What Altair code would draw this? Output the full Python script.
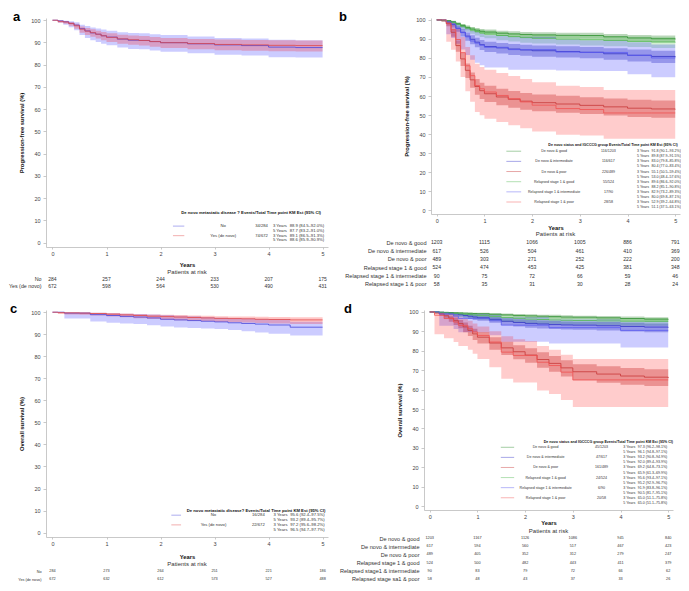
import altair as alt
import pandas as pd

FONT = "Liberation Sans"
XDOM = [-0.12, 5.1]
YDOM = [-2, 101]
YTICKS = list(range(0, 101, 10))
XTICKS = [0, 1, 2, 3, 4, 5]
RISK_T = [0, 1, 2, 3, 4, 5]

# ---------------- Panel a : PFS, de novo metastatic disease ----------------
A_T = [0, 0.1, 0.2, 0.3, 0.4, 0.5, 0.6, 0.7, 0.8, 0.9, 1.0, 1.2, 1.4, 1.6, 1.8, 2.0, 2.5, 3.0, 3.5, 4.0, 4.5, 5.0]
A_NO_S = [100, 99.7, 99.3, 98.6, 97.8, 96.2, 95.2, 94.3, 93.7, 93.0, 92.4, 91.5, 91.0, 90.9, 90.4, 89.9, 89.4, 88.9, 88.6, 87.9, 87.7, 87.7]
A_NO_LO = [100, 98.9, 98.0, 96.8, 95.5, 93.4, 92.0, 91.0, 90.2, 89.4, 88.7, 87.7, 87.1, 86.9, 86.4, 85.8, 85.1, 84.5, 84.1, 83.4, 83.2, 83.2]
A_NO_HI = [100, 100, 99.8, 99.5, 99.1, 98.0, 97.4, 96.7, 96.3, 95.8, 95.3, 94.6, 94.2, 94.1, 93.7, 93.3, 92.7, 92.0, 91.8, 91.2, 91.0, 91.0]
A_YES_S = [100, 99.5, 99.2, 98.5, 97.5, 96.0, 95.1, 94.4, 93.7, 93.0, 92.3, 91.6, 91.2, 90.9, 90.4, 89.9, 89.5, 89.1, 88.9, 88.7, 88.6, 88.6]
A_YES_LO = [100, 98.9, 98.4, 97.5, 96.2, 94.4, 93.4, 92.6, 91.8, 91.0, 90.2, 89.4, 89.0, 88.6, 88.1, 87.5, 87.0, 86.5, 86.3, 86.0, 85.9, 85.9]
A_YES_HI = [100, 99.9, 99.7, 99.2, 98.4, 97.2, 96.5, 95.9, 95.3, 94.7, 94.1, 93.5, 93.1, 92.9, 92.4, 92.0, 91.6, 91.3, 91.1, 91.0, 90.9, 90.9]
A_GROUPS = ["No", "Yes (de novo)"]
A_EVENTS = ["34/284", "74/672"]
A_EST3 = ["88.9 (84.5\u201392.0%)", "89.1 (86.5\u201391.3%)"]
A_EST5 = ["87.7 (83.2\u201391.0%)", "88.6 (85.9\u201390.9%)"]
A_RISK_LABELS = ["No", "Yes (de novo)"]
A_RISK = [[284, 257, 244, 233, 207, 175], [672, 598, 564, 530, 490, 431]]

# ---------------- Panel b : PFS, de novo status x IGCCCG ----------------
B_T = [0, 0.1, 0.2, 0.3, 0.4, 0.5, 0.6, 0.7, 0.8, 0.9, 1.0, 1.25, 1.5, 1.75, 2.0, 2.5, 3.0, 3.5, 4.0, 4.5, 5.0]
B_DG_S = [100, 99.9, 99.6, 99.0, 98.0, 97.0, 96.0, 95.2, 94.6, 94.0, 93.6, 93.0, 92.6, 92.3, 92.1, 91.9, 91.8, 91.1, 90.5, 90.1, 89.8]
B_DG_LO = [100, 99.7, 99.2, 98.4, 97.2, 96.0, 94.9, 94.0, 93.3, 92.6, 92.2, 91.5, 91.0, 90.7, 90.5, 90.2, 90.1, 89.3, 88.6, 88.2, 87.9]
B_DG_HI = [100, 100, 99.9, 99.5, 98.7, 97.9, 97.0, 96.3, 95.7, 95.2, 94.9, 94.3, 94.0, 93.7, 93.5, 93.3, 93.2, 92.6, 92.1, 91.8, 91.5]
B_DI_S = [100, 99.8, 99.0, 97.5, 95.6, 93.5, 91.5, 89.8, 88.3, 87.0, 86.0, 85.3, 84.7, 84.2, 83.8, 83.4, 83.0, 82.2, 81.4, 80.8, 80.4]
B_DI_LO = [100, 99.3, 98.0, 96.0, 93.8, 91.3, 89.1, 87.2, 85.6, 84.2, 83.1, 82.3, 81.6, 81.1, 80.7, 80.2, 79.8, 79.0, 78.1, 77.4, 77.0]
B_DI_HI = [100, 100, 99.6, 98.5, 96.9, 95.2, 93.4, 91.9, 90.6, 89.4, 88.5, 87.9, 87.3, 86.9, 86.5, 86.2, 85.8, 85.1, 84.4, 83.8, 83.4]
B_DP_S = [100, 99.6, 98.0, 93.5, 86.5, 79.5, 73.5, 68.5, 65.0, 62.8, 61.2, 59.5, 58.3, 57.3, 56.5, 55.8, 55.1, 54.3, 53.6, 53.2, 53.0]
B_DP_LO = [100, 99.0, 96.7, 91.1, 83.3, 75.8, 69.5, 64.3, 60.7, 58.4, 56.8, 55.1, 53.8, 52.8, 52.0, 51.2, 50.5, 49.7, 49.0, 48.6, 48.4]
B_DP_HI = [100, 99.9, 98.8, 95.3, 89.2, 82.8, 77.1, 72.4, 69.0, 67.0, 65.4, 63.8, 62.6, 61.6, 60.8, 60.1, 59.4, 58.7, 58.0, 57.7, 57.6]
B_RG_S = [100, 99.8, 99.4, 98.6, 97.6, 96.6, 95.6, 94.7, 93.9, 93.2, 92.6, 91.8, 91.2, 90.7, 90.3, 89.9, 89.6, 89.2, 88.7, 88.4, 88.2]
B_RG_LO = [100, 99.3, 98.5, 97.4, 96.1, 94.9, 93.8, 92.7, 91.8, 91.0, 90.3, 89.3, 88.6, 88.0, 87.6, 87.1, 86.6, 86.2, 85.7, 85.3, 85.1]
B_RG_HI = [100, 100, 99.8, 99.3, 98.6, 97.8, 96.9, 96.1, 95.4, 94.8, 94.3, 93.6, 93.1, 92.7, 92.4, 92.1, 92.0, 91.6, 91.2, 90.9, 90.8]
B_RI_S = [100, 100, 98.9, 97.8, 95.6, 93.3, 91.1, 88.9, 87.8, 86.7, 85.6, 85.6, 84.4, 84.4, 84.4, 83.1, 82.9, 82.9, 81.4, 80.0, 80.0]
B_RI_LO = [100, 100, 92.5, 90.5, 87.5, 84.5, 81.5, 79.0, 77.5, 76.2, 75.0, 75.0, 73.8, 73.8, 73.8, 73.4, 73.2, 73.2, 71.5, 69.8, 69.8]
B_RI_HI = [100, 100, 99.8, 99.4, 98.3, 97.1, 95.7, 94.3, 93.5, 92.7, 92.0, 92.0, 91.2, 91.2, 91.2, 89.8, 89.3, 89.3, 88.2, 87.1, 87.1]
B_RP_S = [100, 100, 98.3, 94.8, 89.7, 82.8, 75.9, 70.7, 65.5, 63.8, 62.1, 60.3, 58.6, 56.9, 55.2, 53.4, 52.9, 51.1, 51.1, 51.1, 51.1]
B_RP_LO = [100, 100, 88.5, 84.3, 78.1, 70.0, 62.5, 57.0, 51.6, 49.9, 48.1, 46.4, 44.7, 43.0, 41.3, 39.6, 39.2, 37.5, 37.5, 37.5, 37.5]
B_RP_HI = [100, 100, 99.8, 98.3, 95.8, 91.0, 85.7, 81.4, 76.9, 75.3, 73.8, 72.1, 70.5, 68.9, 67.2, 65.4, 64.8, 63.1, 63.1, 63.1, 63.1]
B_GROUPS = ["De novo & good", "De novo & intermediate", "De novo & poor",
            "Relapsed stage 1 & good", "Relapsed stage 1 & intermediate", "Relapsed stage 1 & poor"]
B_EVENTS = ["116/1203", "116/617", "226/489", "55/524", "17/90", "28/58"]
B_EST3 = ["91.8 (90.1\u201393.2%)", "83.0 (79.8\u201385.8%)", "55.1 (50.5\u201359.4%)",
          "89.6 (86.6\u201392.0%)", "82.9 (73.2\u201389.3%)", "52.9 (39.2\u201364.8%)"]
B_EST5 = ["89.8 (87.9\u201391.5%)", "80.4 (77.0\u201383.4%)", "53.0 (48.4\u201357.6%)",
          "88.2 (85.1\u201390.8%)", "80.0 (69.8\u201387.1%)", "51.1 (37.5\u201363.1%)"]
B_RISK_LABELS = ["De novo & good", "De novo & intermediate", "De novo & poor",
                 "Relapsed stage 1 & good", "Relapsed stage 1 & intermediate", "Relapsed stage 1 & poor"]
B_RISK = [[1203, 1115, 1066, 1005, 886, 791], [617, 526, 504, 461, 410, 369],
          [489, 303, 271, 252, 222, 200], [524, 474, 453, 425, 381, 348],
          [90, 75, 72, 66, 59, 46], [58, 35, 31, 30, 28, 24]]

# ---------------- Panel c : OS, de novo metastatic disease ----------------
C_T = [0, 0.1, 0.22, 0.5, 0.7, 1.0, 1.25, 1.5, 1.75, 2.0, 2.25, 2.5, 2.75, 3.0, 3.25, 3.5, 3.75, 4.0, 4.4, 5.0]
C_NO_S = [100, 100, 99.6, 99.6, 98.9, 98.5, 98.1, 97.8, 97.4, 96.8, 96.5, 96.2, 95.9, 95.6, 95.2, 94.9, 94.6, 94.2, 93.2, 93.2]
C_NO_LO = [100, 100, 97.2, 97.2, 95.8, 95.2, 94.9, 94.6, 94.1, 93.5, 93.1, 92.8, 92.6, 92.4, 91.9, 91.4, 90.8, 90.2, 89.4, 89.4]
C_NO_HI = [100, 100, 99.9, 99.9, 99.7, 99.5, 99.3, 99.2, 99.0, 98.7, 98.4, 98.2, 97.8, 97.5, 97.3, 97.1, 96.9, 96.8, 95.7, 95.7]
C_YES_S = [100, 99.8, 99.7, 99.6, 99.4, 99.1, 98.8, 98.5, 98.2, 98.0, 97.8, 97.6, 97.4, 97.2, 97.1, 97.0, 96.8, 96.7, 96.5, 96.5]
C_YES_LO = [100, 99.2, 99.0, 98.8, 98.5, 98.1, 97.7, 97.3, 96.9, 96.6, 96.3, 96.1, 95.9, 95.6, 95.4, 95.3, 95.1, 94.9, 94.7, 94.7]
C_YES_HI = [100, 100, 99.9, 99.9, 99.8, 99.6, 99.4, 99.2, 99.0, 98.8, 98.7, 98.5, 98.4, 98.2, 98.1, 98.0, 97.9, 97.8, 97.7, 97.7]
C_GROUPS = ["No", "Yes (de novo)"]
C_EVENTS = ["16/284", "22/672"]
C_EST3 = ["95.6 (92.4\u201397.5%)", "97.2 (95.6\u201398.2%)"]
C_EST5 = ["93.2 (89.4\u201395.7%)", "96.5 (94.7\u201397.7%)"]
C_RISK_LABELS = ["No", "Yes (de novo)"]
C_RISK = [[284, 273, 264, 251, 221, 186], [672, 632, 612, 573, 527, 488]]

# ---------------- Panel d : OS, de novo status x IGCCCG ----------------
D_T = [0, 0.1, 0.2, 0.3, 0.4, 0.5, 0.6, 0.7, 0.8, 0.9, 1.0, 1.25, 1.5, 1.75, 2.0, 2.25, 2.5, 2.75, 3.0, 3.5, 4.0, 4.5, 5.0]
D_DG_S = [100, 100, 99.9, 99.8, 99.7, 99.6, 99.5, 99.4, 99.3, 99.2, 99.1, 98.8, 98.5, 98.2, 98.0, 97.8, 97.6, 97.4, 97.3, 97.0, 96.6, 96.3, 96.1]
D_DG_LO = [100, 99.9, 99.7, 99.5, 99.3, 99.1, 98.9, 98.8, 98.6, 98.4, 98.3, 97.9, 97.6, 97.2, 96.9, 96.7, 96.5, 96.3, 96.2, 95.8, 95.3, 95.0, 94.8]
D_DG_HI = [100, 100, 100, 99.9, 99.9, 99.8, 99.8, 99.7, 99.7, 99.6, 99.6, 99.4, 99.2, 99.0, 98.8, 98.6, 98.5, 98.3, 98.1, 97.9, 97.6, 97.3, 97.1]
D_DI_S = [100, 100, 99.8, 99.6, 99.3, 99.0, 98.6, 98.2, 97.8, 97.4, 97.0, 96.2, 95.2, 94.6, 94.1, 93.8, 93.5, 93.3, 93.2, 92.9, 92.5, 92.2, 92.0]
D_DI_LO = [100, 99.9, 99.4, 99.0, 98.5, 98.1, 97.5, 97.0, 96.4, 95.9, 95.4, 94.4, 93.3, 92.5, 91.9, 91.5, 91.2, 91.0, 90.8, 90.4, 89.9, 89.6, 89.4]
D_DI_HI = [100, 100, 100, 99.9, 99.7, 99.5, 99.3, 99.0, 98.8, 98.4, 98.1, 97.5, 96.7, 96.2, 95.8, 95.6, 95.3, 95.1, 95.0, 94.8, 94.4, 94.1, 93.9]
D_DP_S = [100, 99.6, 99.0, 98.0, 96.8, 95.5, 94.0, 92.3, 90.5, 88.7, 87.0, 84.0, 81.5, 79.5, 77.8, 75.5, 73.5, 71.2, 69.2, 68.0, 67.0, 66.4, 65.9]
D_DP_LO = [100, 99.0, 98.0, 96.6, 95.0, 93.3, 91.6, 89.6, 87.6, 85.6, 83.7, 80.5, 77.8, 75.6, 73.8, 71.3, 69.2, 66.8, 64.8, 63.5, 62.5, 61.8, 61.3]
D_DP_HI = [100, 99.9, 99.6, 99.0, 98.1, 97.1, 95.9, 94.5, 92.9, 91.3, 89.7, 87.0, 84.7, 82.9, 81.3, 79.2, 77.3, 75.1, 73.1, 72.0, 71.1, 70.5, 69.9]
D_RG_S = [100, 100, 99.8, 99.6, 99.4, 99.2, 99.0, 98.8, 98.6, 98.4, 98.1, 97.6, 97.1, 96.7, 96.3, 96.1, 95.9, 95.7, 95.6, 95.4, 95.2, 95.2, 95.2]
D_RG_LO = [100, 100, 99.2, 98.7, 98.3, 97.9, 97.5, 97.2, 96.9, 96.5, 96.1, 95.5, 94.8, 94.3, 93.9, 93.7, 93.5, 93.4, 93.4, 93.2, 92.9, 92.9, 92.9]
D_RG_HI = [100, 100, 100, 99.9, 99.8, 99.7, 99.6, 99.5, 99.4, 99.3, 99.1, 98.8, 98.5, 98.2, 97.9, 97.7, 97.5, 97.3, 97.1, 96.9, 96.7, 96.7, 96.7]
D_RI_S = [100, 100, 98.9, 98.9, 98.9, 97.8, 96.7, 96.7, 96.7, 96.7, 96.7, 95.5, 93.2, 93.2, 93.2, 93.2, 91.9, 91.9, 91.9, 91.9, 90.5, 90.5, 90.5]
D_RI_LO = [100, 100, 92.9, 92.9, 92.9, 91.2, 89.6, 89.6, 89.6, 89.6, 89.6, 88.0, 84.6, 84.6, 84.6, 84.6, 83.8, 83.8, 83.8, 83.8, 81.7, 81.7, 81.7]
D_RI_HI = [100, 100, 99.8, 99.8, 99.8, 99.5, 99.1, 99.1, 99.1, 99.1, 99.1, 98.5, 97.3, 97.3, 97.3, 97.3, 96.1, 96.1, 96.1, 96.1, 95.1, 95.1, 95.1]
D_RP_S = [100, 98.3, 98.3, 96.6, 96.6, 94.8, 93.1, 93.1, 91.4, 89.7, 87.9, 84.5, 79.3, 77.6, 77.6, 74.1, 72.4, 69.0, 65.0, 65.0, 65.0, 65.0, 65.0]
D_RP_LO = [100, 88.5, 88.5, 86.5, 86.5, 84.5, 82.5, 82.5, 80.5, 78.5, 75.8, 71.5, 65.6, 63.6, 63.6, 59.6, 57.8, 54.7, 51.1, 51.1, 51.1, 51.1, 51.1]
D_RP_HI = [100, 99.8, 99.8, 99.2, 99.2, 98.3, 97.3, 96.5, 95.5, 94.0, 92.5, 90.0, 87.5, 86.0, 85.0, 82.5, 80.5, 78.0, 75.8, 75.8, 75.8, 75.8, 75.8]
D_GROUPS = B_GROUPS
D_EVENTS = ["45/1203", "47/617", "161/489", "24/524", "6/90", "20/58"]
D_EST3 = ["97.3 (96.2\u201398.1%)", "93.2 (90.8\u201394.9%)", "69.2 (64.8\u201373.1%)",
          "95.6 (93.4\u201397.1%)", "91.9 (83.8\u201396.1%)", "65.0 (51.1\u201375.8%)"]
D_EST5 = ["96.1 (94.8\u201397.1%)", "92.0 (89.4\u201393.9%)", "65.9 (61.3\u201369.9%)",
          "95.2 (92.9\u201396.7%)", "90.5 (81.7\u201395.1%)", "65.0 (51.1\u201375.8%)"]
D_RISK_LABELS = ["De novo & good", "De novo & intermediate", "De novo & poor",
                 "Relapsed stage 1 & good", "Relapsed stage1 & intermediate", "Relapsed stage sa1 & poor"]
D_RISK = [[1203, 1167, 1126, 1086, 945, 840], [617, 594, 560, 517, 467, 423],
          [489, 405, 352, 312, 279, 247], [524, 500, 482, 443, 411, 379],
          [90, 83, 79, 72, 66, 62], [58, 48, 43, 37, 33, 26]]

# ---------------- styles ----------------
BLUE_L, RED_L = "#4646dc", "#e04848"
STYLE_2 = [(BLUE_L, "#0000ff", 0.2), (RED_L, "#ff0000", 0.22)]
STYLE_6 = [("#2f8f2f", "#1a7a1a", 0.3), ("#3535c8", "#2020b0", 0.3), ("#c83838", "#b02020", 0.32),
           ("#52b852", "#22aa22", 0.2), ("#5a5af0", "#0000ff", 0.2), ("#f05050", "#ff0000", 0.2)]


def xscale():
    return alt.Scale(domain=XDOM, nice=False, zero=False)


def yscale():
    return alt.Scale(domain=YDOM, nice=False, zero=False)


def x_axis(pad):
    return alt.Axis(values=XTICKS, title="Years", titleFontSize=5.8, titleFontWeight="bold",
                    titleColor="#111", titlePadding=pad, labelFontSize=5.5, labelColor="#444",
                    labelPadding=2, tickSize=2, tickColor="#bbb", domainColor="#bbb",
                    domainWidth=0.8, tickWidth=0.8, grid=False, format="d", titleFont=FONT,
                    labelFont=FONT)


def y_axis(title):
    return alt.Axis(values=YTICKS, title=title, titleFontSize=5.8, titleFontWeight="bold",
                    titleColor="#111", titlePadding=6, labelFontSize=5.5, labelColor="#444",
                    labelPadding=3, tickSize=3, tickColor="#bbb", domainColor="#bbb",
                    domainWidth=0.8, tickWidth=0.8, grid=False, titleFont=FONT, labelFont=FONT)


def panel_plot(series, styles, leg, letter, letter_x, ytitle, width, height, xpad):
    rows = []
    for (name, T, S, LO, HI), (lc, bc, bo) in zip(series, styles):
        for t, s, lo, hi in zip(T, S, LO, HI):
            rows.append({"group": name, "t": t, "s": s, "lo": lo, "hi": hi, "lc": lc, "bc": bc, "bo": bo})
    df = pd.DataFrame(rows)

    def X(f):
        return alt.X(f, type="quantitative", scale=xscale(), axis=x_axis(xpad))

    def Y(f):
        return alt.Y(f, type="quantitative", scale=yscale(), axis=y_axis(ytitle))

    base = alt.Chart(df)
    bands = base.mark_area(interpolate="step-after").encode(
        x=X("t"), y=Y("lo"), y2="hi",
        color=alt.Color("bc:N", scale=None), opacity=alt.Opacity("bo:Q", scale=None),
        detail="group:N")
    lines = base.mark_line(interpolate="step-after", strokeWidth=0.8).encode(
        x=X("t"), y=Y("s"), color=alt.Color("lc:N", scale=None), detail="group:N")

    # legend table inside plot
    lrows = []
    for k, name in enumerate(leg["groups"]):
        for j in range(2):
            r = 2 * k + j
            lrows.append({
                "y": leg["y0"] - r * leg["dy"], "first": j == 0,
                "label": name if j == 0 else "", "ev": leg["events"][k] if j == 0 else "",
                "tp": "3 Years" if j == 0 else "5 Years",
                "est": leg["est3"][k] if j == 0 else leg["est5"][k],
                "col": styles[k][0],
                "xs1": leg["xs1"], "xs2": leg["xs2"], "xl": leg["xl"], "xe": leg["xe"],
                "xt": leg["xt"], "xest": leg["xest"]})
    ldf = pd.DataFrame(lrows)
    fs = leg["fs"]
    samples = alt.Chart(ldf[ldf["first"]]).mark_rule(strokeWidth=0.8, opacity=0.55).encode(
        x=X("xs1"), x2="xs2", y=Y("y"), color=alt.Color("col:N", scale=None))
    tmark = dict(fontSize=fs, font=FONT, color="#333", baseline="middle")
    lab = alt.Chart(ldf).mark_text(align="center", **tmark).encode(x=X("xl"), y=Y("y"), text="label:N")
    ev = alt.Chart(ldf).mark_text(align="center", **tmark).encode(x=X("xe"), y=Y("y"), text="ev:N")
    tp = alt.Chart(ldf).mark_text(align="right", **tmark).encode(x=X("xt"), y=Y("y"), text="tp:N")
    est = alt.Chart(ldf).mark_text(align="left", **tmark).encode(x=X("xest"), y=Y("y"), text="est:N")
    hdf = pd.DataFrame({"x": [leg["hx"]], "y": [leg["hy"]], "text": [leg["header"]]})
    header = alt.Chart(hdf).mark_text(align="right", baseline="middle", fontSize=fs, font=FONT,
                                      fontWeight="bold", color="#111").encode(
        x=X("x"), y=Y("y"), text="text:N")
    let = alt.Chart(pd.DataFrame({"lab": [letter]})).mark_text(
        fontSize=13, fontWeight="bold", font=FONT, align="left", baseline="alphabetic",
        color="#000").encode(x=alt.value(letter_x), y=alt.value(3), text="lab:N")
    return alt.layer(bands, lines, samples, header, lab, ev, tp, est, let).properties(
        width=width, height=height)


def risk_chart(labels, counts, width, height, label_fs, num_fs, title_offset):
    rows = []
    for lab, cnts in zip(labels, counts):
        for t, n in zip(RISK_T, cnts):
            rows.append({"label": lab, "t": t, "n": str(n)})
    return alt.Chart(pd.DataFrame(rows), title=alt.TitleParams(
        "Patients at risk", fontSize=6, fontWeight="normal", font=FONT, color="#333",
        offset=title_offset, anchor="middle")).mark_text(
        fontSize=num_fs, font=FONT, color="#333", baseline="middle").encode(
        x=alt.X("t:Q", scale=xscale(), axis=None),
        y=alt.Y("label:N", sort=labels, axis=alt.Axis(
            title=None, domain=False, ticks=False, labelFontSize=label_fs, labelFont=FONT,
            labelColor="#333", labelPadding=5, labelLimit=0)),
        text="n:N").properties(width=width, height=height)


LEG_A = dict(groups=A_GROUPS, events=A_EVENTS, est3=A_EST3, est5=A_EST5, fs=4.2,
             y0=7.4, dy=2.15, xs1=2.23, xs2=2.44, xl=3.16, xe=3.87, xt=4.34, xest=4.39,
             hx=4.97, hy=13.5,
             header="De novo metastatic disease ? Events/Total Time point KM Est (95% CI)")
LEG_C = dict(groups=C_GROUPS, events=C_EVENTS, est3=C_EST3, est5=C_EST5, fs=4.2,
             y0=7.9, dy=2.2, xs1=2.2, xs2=2.38, xl=2.98, xe=3.81, xt=4.35, xest=4.40,
             hx=5.05, hy=10.0,
             header="De novo metastatic disease? Events/Total Time point KM Est (95% CI)")
LEG_B = dict(groups=B_GROUPS, events=B_EVENTS, est3=B_EST3, est5=B_EST5, fs=3.6,
             y0=31.0, dy=2.67, xs1=1.46, xs2=1.77, xl=2.46, xe=3.6, xt=4.45, xest=4.5,
             hx=5.05, hy=34.0,
             header="De novo status and IGCCCG group Events/Total Time point KM Est (95% CI)")
LEG_D = dict(groups=D_GROUPS, events=D_EVENTS, est3=D_EST3, est5=D_EST5, fs=3.6,
             y0=30.3, dy=2.6, xs1=1.49, xs2=1.77, xl=2.43, xe=3.6, xt=4.31, xest=4.36,
             hx=5.1, hy=33.0,
             header="De novo status and IGCCCG group Events/Total Time point KM Est (95% CI)")

SER_A = [("No", A_T, A_NO_S, A_NO_LO, A_NO_HI), ("Yes (de novo)", A_T, A_YES_S, A_YES_LO, A_YES_HI)]
SER_C = [("No", C_T, C_NO_S, C_NO_LO, C_NO_HI), ("Yes (de novo)", C_T, C_YES_S, C_YES_LO, C_YES_HI)]
SER_B = [(B_GROUPS[0], B_T, B_DG_S, B_DG_LO, B_DG_HI), (B_GROUPS[1], B_T, B_DI_S, B_DI_LO, B_DI_HI),
         (B_GROUPS[2], B_T, B_DP_S, B_DP_LO, B_DP_HI), (B_GROUPS[3], B_T, B_RG_S, B_RG_LO, B_RG_HI),
         (B_GROUPS[4], B_T, B_RI_S, B_RI_LO, B_RI_HI), (B_GROUPS[5], B_T, B_RP_S, B_RP_LO, B_RP_HI)]
SER_D = [(D_GROUPS[0], D_T, D_DG_S, D_DG_LO, D_DG_HI), (D_GROUPS[1], D_T, D_DI_S, D_DI_LO, D_DI_HI),
         (D_GROUPS[2], D_T, D_DP_S, D_DP_LO, D_DP_HI), (D_GROUPS[3], D_T, D_RG_S, D_RG_LO, D_RG_HI),
         (D_GROUPS[4], D_T, D_RI_S, D_RI_LO, D_RI_HI), (D_GROUPS[5], D_T, D_RP_S, D_RP_LO, D_RP_HI)]

WL, WR = 282, 249

pa = alt.vconcat(
    panel_plot(SER_A, STYLE_2, LEG_A, "a", -33, "Progression-free survival (%)", WL, 229, 5),
    risk_chart(A_RISK_LABELS, A_RISK, WL, 14, 5.3, 5.0, 0),
    spacing=28, bounds="flush")
pb = alt.vconcat(
    panel_plot(SER_B, STYLE_6, LEG_B, "b", -92, "Progression-free survival (%)", WR, 196, 1),
    risk_chart(B_RISK_LABELS, B_RISK, WR, 50, 5.6, 5.2, 1),
    spacing=24, bounds="flush")
pc = alt.vconcat(
    panel_plot(SER_C, STYLE_2, LEG_C, "c", -36, "Overall survival (%)", WL, 227, 7),
    risk_chart(C_RISK_LABELS, C_RISK, WL, 16, 3.8, 3.8, 0),
    spacing=30, bounds="flush")
pd_ = alt.vconcat(
    panel_plot(SER_D, STYLE_6, LEG_D, "d", -80, "Overall survival (%)", WR, 200, 0),
    risk_chart(D_RISK_LABELS, D_RISK, WR, 49, 5.6, 3.8, 0),
    spacing=24, bounds="flush")

top = alt.hconcat(pa, pb, spacing=11)
bottom = alt.hconcat(pc, pd_, spacing=11)
chart = alt.vconcat(top, bottom, spacing=14,
                    padding={"top": 3, "left": 0, "right": 0, "bottom": 0})
chart = chart.configure(font=FONT).configure_view(stroke=None)

chart.save("out.html", embed_options={"renderer": "svg", "actions": False})
